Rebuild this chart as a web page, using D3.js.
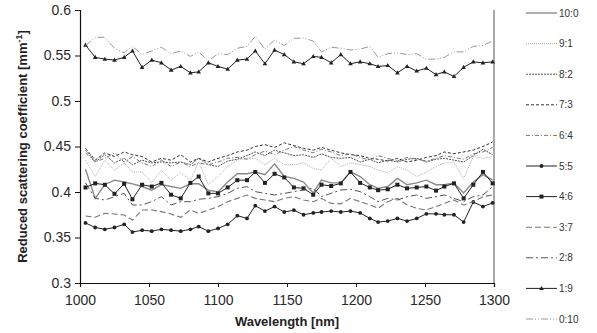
<!DOCTYPE html>
<html>
<head>
<meta charset="utf-8">
<script src="https://cdn.jsdelivr.net/npm/d3@7"></script>
<style>
  body { margin: 0; background: #fff; }
  svg { font-family: 'Liberation Sans', Arial, sans-serif; }
</style>
</head>
<body>
<div id="chart"></div>
<script>
// wavelength [nm]
const wavelengths = [1004, 1011, 1018, 1025, 1032, 1038, 1045, 1052, 1059, 1066, 1073, 1080, 1086, 1093,
  1100, 1107, 1114, 1121, 1127, 1134, 1141, 1148, 1155, 1162, 1169, 1175, 1182, 1189, 1196, 1203, 1210,
  1216, 1223, 1230, 1237, 1244, 1251, 1258, 1264, 1271, 1278, 1285, 1292, 1299]

const s10_0 = [.425,.393,.408,.413,.411,.409,.406,.402,.408,.406,.404,.409,.409,.402,.400,.411,.420,.420,.422,.419,.431,.417,.415,.411,.399,.413,.410,.410,.422,.417,.408,.404,.406,.415,.408,.410,.413,.408,.408,.410,.399,.411,.419,.413]
const s9_1 = [.435,.417,.435,.424,.432,.422,.422,.410,.424,.413,.421,.413,.433,.408,.417,.428,.435,.437,.437,.430,.437,.430,.430,.432,.426,.424,.437,.428,.432,.430,.428,.424,.421,.428,.424,.417,.422,.428,.432,.432,.415,.439,.437,.439]
const s8_2 = [.446,.433,.441,.432,.437,.430,.435,.432,.433,.432,.433,.430,.437,.430,.428,.434,.436,.440,.444,.440,.446,.443,.440,.441,.438,.442,.438,.437,.438,.433,.436,.432,.435,.433,.436,.437,.433,.436,.437,.435,.433,.440,.447,.441]
const s7_3 = [.448,.435,.443,.439,.444,.441,.439,.433,.437,.435,.441,.433,.437,.433,.437,.440,.444,.446,.450,.452,.449,.454,.451,.448,.446,.449,.446,.443,.441,.440,.437,.436,.434,.437,.433,.435,.438,.440,.444,.442,.444,.446,.450,.455]
const s6_4 = [.443,.433,.437,.443,.433,.439,.432,.428,.435,.428,.433,.428,.432,.430,.433,.437,.438,.436,.441,.445,.441,.446,.450,.446,.443,.447,.444,.440,.442,.438,.435,.440,.437,.434,.438,.436,.434,.437,.440,.438,.436,.442,.444,.449]
const s5_5 = [.366,.361,.359,.361,.3645,.356,.358,.357,.359,.358,.357,.359,.362,.357,.360,.3645,.374,.371,.385,.379,.384,.378,.380,.375,.377,.378,.379,.378,.379,.377,.371,.367,.368,.371,.368,.371,.376,.376,.375,.375,.367,.389,.384,.388]
const s4_6 = [.405,.4095,.408,.398,.409,.392,.408,.406,.410,.397,.393,.410,.417,.3985,.3985,.405,.413,.413,.422,.410,.420,.416,.405,.404,.397,.408,.4066,.4095,.422,.410,.405,.402,.403,.408,.404,.405,.406,.4015,.406,.4095,.393,.408,.422,.4095]
const s3_7 = [.3736,.3722,.3766,.3758,.3747,.3692,.3802,.3802,.3784,.3758,.3722,.3802,.3766,.380,.3839,.3894,.393,.3967,.393,.3912,.3894,.393,.3949,.3912,.3894,.393,.3875,.387,.393,.3894,.3857,.3821,.3894,.393,.3857,.3821,.3802,.3839,.3875,.3912,.3857,.3894,.3949,.3967]
const s2_8 = [.410,.393,.3912,.3949,.3985,.3857,.3857,.3894,.3949,.3857,.3894,.3894,.392,.393,.3949,.3985,.404,.4059,.4004,.3985,.3967,.3985,.4004,.4022,.404,.3949,.3985,.4022,.4029,.4004,.3949,.3894,.393,.3912,.3949,.3967,.393,.3949,.3967,.393,.3894,.3949,.3967,.4059]
const s1_9 = [.5615,.548,.546,.545,.548,.555,.537,.545,.542,.534,.538,.531,.532,.542,.538,.535,.545,.546,.555,.541,.556,.551,.543,.541,.549,.548,.542,.551,.541,.543,.541,.538,.539,.531,.538,.533,.536,.529,.532,.527,.537,.543,.542,.543]
const s0_10 = [.561,.570,.570,.558,.553,.560,.551,.555,.559,.552,.555,.549,.554,.544,.552,.551,.558,.560,.571,.557,.567,.561,.569,.569,.566,.554,.559,.558,.556,.557,.560,.548,.552,.553,.551,.552,.546,.546,.548,.554,.554,.560,.561,.566]

const seriesNames = ['10:0', '9:1', '8:2', '7:3', '6:4', '5:5', '4:6', '3:7', '2:8', '1:9', '0:10']
const seriesValues = [s10_0, s9_1, s8_2, s7_3, s6_4, s5_5, s4_6, s3_7, s2_8, s1_9, s0_10]

const xTicks = [1000, 1050, 1100, 1150, 1200, 1250, 1300]
const yTicks = [0.3, 0.35, 0.4, 0.45, 0.5, 0.55, 0.6]

// line styles per series
const styles = [
  { stroke: '#8a8a8a', width: 1.4, dash: null, marker: null },
  { stroke: '#b0b0b0', width: 1, dash: '1,1', marker: null },
  { stroke: '#555', width: 1, dash: '2,1', marker: null },
  { stroke: '#333', width: 1, dash: '3,2', marker: null },
  { stroke: '#777', width: 1, dash: '4,2,1,2', marker: null },
  { stroke: '#222', width: 1, dash: null, marker: 'circle' },
  { stroke: '#222', width: 1, dash: null, marker: 'square' },
  { stroke: '#777', width: 1.1, dash: '6,3', marker: null },
  { stroke: '#555', width: 1, dash: '7,3,2,3', marker: null },
  { stroke: '#222', width: 1, dash: null, marker: 'triangle' },
  { stroke: '#999', width: 1, dash: '7,2,1,2,1,2', marker: null }
]

const W = 597, H = 333
const plot = { left: 80, right: 494, top: 10, bottom: 283 }

const svg = d3.select('#chart').append('svg')
  .attr('width', W)
  .attr('height', H)

const xScale = d3.scaleLinear().domain([1000, 1300]).range([plot.left, plot.right])
const yScale = d3.scaleLinear().domain([0.3, 0.6]).range([plot.bottom, plot.top])

// right border of plot area
svg.append('line')
  .attr('x1', plot.right).attr('x2', plot.right)
  .attr('y1', plot.top).attr('y2', plot.bottom)
  .attr('stroke', '#8c8c8c')
  .attr('stroke-width', 1.5)

// axes
const xAxis = svg.append('g')
  .attr('transform', `translate(0, ${plot.bottom})`)
  .call(d3.axisBottom(xScale).tickValues(xTicks).tickSize(4).tickFormat(d3.format('d')))
const yAxis = svg.append('g')
  .attr('transform', `translate(${plot.left}, 0)`)
  .call(d3.axisLeft(yScale).tickValues(yTicks).tickSize(5).tickFormat(d => String(d)))

;[xAxis, yAxis].forEach(a => {
  a.select('.domain').attr('stroke', '#111').attr('stroke-width', 1.2)
  a.selectAll('.tick line').attr('stroke', '#111')
  a.selectAll('.tick text').attr('font-size', 14).attr('fill', '#2a2a2a').attr('font-family', 'Liberation Sans, Arial, sans-serif')
})
xAxis.selectAll('.tick text').attr('dy', '1.05em')
yAxis.selectAll('.tick text').attr('x', -9)

// axis titles
svg.append('text')
  .attr('x', (plot.left + plot.right) / 2)
  .attr('y', 326)
  .attr('text-anchor', 'middle')
  .attr('font-size', 13)
  .attr('font-weight', 'bold')
  .attr('fill', '#222')
  .text('Wavelength [nm]')

const yTitle = svg.append('text')
  .attr('transform', `translate(27, ${(plot.top + plot.bottom) / 2}) rotate(-90)`)
  .attr('text-anchor', 'middle')
  .attr('font-size', 13)
  .attr('font-weight', 'bold')
  .attr('fill', '#222')
yTitle.append('tspan').text('Reduced scattering coefficient [mm')
yTitle.append('tspan').attr('font-size', 9).attr('dy', -5).text('-1')
yTitle.append('tspan').attr('dy', 5).text(']')

const line = d3.line()
  .x(d => xScale(d[0]))
  .y(d => yScale(d[1]))

function drawMarker(g, type, x, y, color) {
  if (type === 'circle') {
    g.append('circle').attr('cx', x).attr('cy', y).attr('r', 1.9).attr('fill', color)
  } else if (type === 'square') {
    g.append('rect').attr('x', x - 2).attr('y', y - 2).attr('width', 4).attr('height', 4).attr('fill', color)
  } else if (type === 'triangle') {
    g.append('path').attr('d', `M${x},${y - 2.5}L${x + 2.3},${y + 1.6}L${x - 2.3},${y + 1.6}Z`).attr('fill', color)
  }
}

// series lines
seriesValues.forEach((vals, i) => {
  const st = styles[i]
  const pts = wavelengths.map((w, j) => [w, vals[j]])
  const g = svg.append('g').attr('class', 'series')
  g.append('path')
    .datum(pts)
    .attr('fill', 'none')
    .attr('stroke', st.stroke)
    .attr('stroke-width', st.width)
    .attr('stroke-dasharray', st.dash)
    .attr('d', line)
  if (st.marker) {
    pts.forEach(p => drawMarker(g, st.marker, xScale(p[0]), yScale(p[1]), st.stroke))
  }
})

// legend
const legend = svg.append('g').attr('class', 'legend')
seriesNames.forEach((name, i) => {
  const st = styles[i]
  const y = 13 + i * 30.6
  legend.append('line')
    .attr('x1', 526).attr('x2', 557)
    .attr('y1', y).attr('y2', y)
    .attr('stroke', st.stroke)
    .attr('stroke-width', st.width)
    .attr('stroke-dasharray', st.dash)
  if (st.marker) drawMarker(legend, st.marker, 541.5, y, st.stroke)
  legend.append('text')
    .attr('x', 559)
    .attr('y', y + 3.5)
    .attr('font-size', 10)
    .attr('fill', '#333')
    .text(name)
})
</script>
</body>
</html>
